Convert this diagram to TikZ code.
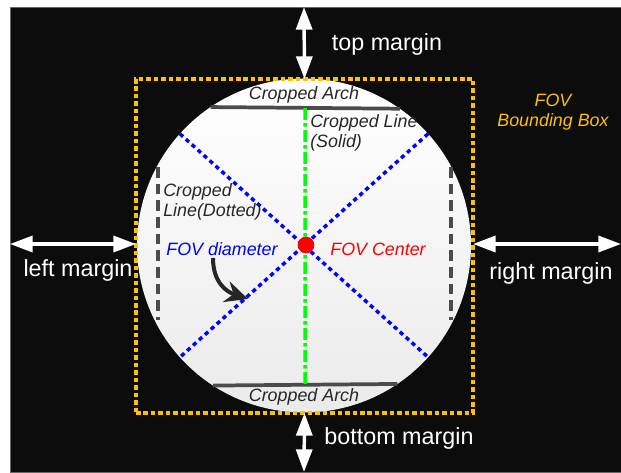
\documentclass[tikz,border=0pt]{standalone}
\usepackage{fontspec}
\setmainfont{Liberation Sans}
\usepackage{tikz}
\usetikzlibrary{calc}
\usetikzlibrary{positioning}
\usetikzlibrary{arrows.meta}
\usepackage{xcolor}
\definecolor{fovorange}{RGB}{255,192,0}
\definecolor{bgblack}{RGB}{12,12,12}
\definecolor{cropgray}{RGB}{75,75,75}
\definecolor{labelgray}{RGB}{38,38,38}

\begin{document}
\begin{tikzpicture}[
	x=0.75pt, y=-0.75pt,
	>={Triangle[width=12pt, length=17pt]},
	fovcircle/.style = {circle, minimum size=250.5pt, inner sep=0pt, outer sep=0pt, top color=white, bottom color=black!8},
	fovbox/.style = {rectangle, draw=fovorange, line width=2.6pt, dash pattern=on 3.4pt off 2.2pt, minimum width=252.75pt, minimum height=250.5pt, inner sep=0pt, outer sep=0pt},
	dot/.style = {circle, fill=red, minimum size=12.5pt, inner sep=0pt},
	diam/.style = {blue, line width=2.6pt, dash pattern=on 3.2pt off 2.8pt},
	solidline/.style = {green, line width=2.6pt, dash pattern=on 9pt off 2.5pt on 2.5pt off 2.5pt},
	dottedline/.style = {cropgray, line width=2.6pt, dash pattern=on 8pt off 4.5pt},
	arch/.style = {cropgray, line width=2.8pt},
	margin/.style = {<->, white, line width=2.6pt},
	pointer/.style = {-{Stealth[length=17pt, width=16pt]}, labelgray, line width=3pt},
	mlabel/.style = {white, font=\fontsize{17.5}{20}\selectfont},
	clabel/.style = {labelgray, font=\fontsize{13.4}{15.5}\selectfont\itshape, inner sep=0pt}
	]
	
	\useasboundingbox (0,0) rectangle (621,472);
	\fill[white] (0,0) rectangle (621,472);
	\filldraw[fill=bgblack, draw=black!60, line width=0.5pt] (10,7) rectangle (621,472);
	
	
	% === === Nodes === ===
	\node[fovcircle]	(fov)	at	(304, 245.5)	{};
	\node[fovbox]		(box)	at	(304.5, 246)	{};
	
	\coordinate	(topend)	at	(304, 7);
	\coordinate	(bottomend)	at	(304, 472);
	\coordinate	(leftend)	at	(10, 244);
	\coordinate	(rightend)	at	(621, 244);
	
	\coordinate	(dotTa)	at	(158, 167);
	\coordinate	(dotTb)	at	(158, 320);
	\coordinate	(dotUa)	at	(451, 167);
	\coordinate	(dotUb)	at	(451, 320);
	
	\coordinate	(diamstart)	at	(213, 258);
	\coordinate	(diamend)	at	(248, 299);
	
	
	% === === Lines === ===
	\draw[arch]			(fov.124.6)	--	(fov.55.4);
	\draw[arch]			(fov.-123.7)	--	(fov.-56.3);
	\draw[solidline]	($(fov.124.6)!0.5!(fov.55.4)$)	--	($(fov.-123.7)!0.5!(fov.-56.3)$);
	\draw[dottedline]	(dotTa)	--	(dotTb);
	\draw[dottedline]	(dotUa)	--	(dotUb);
	\draw[diam]			(fov.138)	--	(fov.-42);
	\draw[diam]			(fov.42)	--	(fov.222);
	
	\node[dot]	(center)	at	(306, 245)	{};
	
	\draw[margin]	(topend)	--	(box.north);
	\draw[margin]	(box.south)	--	(bottomend);
	\draw[margin]	(leftend)	--	(leftend -| box.west);
	\draw[margin]	(rightend -| box.east)	--	(rightend);
	
	\draw[pointer]	(diamstart)	..	controls (213, 283) and (227, 292)	..	(diamend);
	
	
	% === === Labels === ===
	\node[mlabel]	(toplbl)	at	(387, 44)	{top margin};
	\node[mlabel]	(botlbl)	at	(399, 438)	{bottom margin};
	\node[mlabel]	(leftlbl)	at	(78, 270)	{left margin};
	\node[mlabel]	(rightlbl)	at	(551, 273)	{right margin};
	
	\node[clabel]	(archtop)	at	(304, 95)	{Cropped Arch};
	\node[clabel]	(archbot)	at	(304, 397)	{Cropped Arch};
	\node[clabel, anchor=west, align=left]	(solidlbl)	at	(310, 133)	{Cropped Line\\(Solid)};
	\node[clabel, anchor=west, align=left]	(dottedlbl)	at	(163, 202)	{Cropped\\Line(Dotted)};
	\node[clabel, blue]	(diamlbl)	at	(222, 249)	{FOV diameter};
	\node[clabel, red]	(centerlbl)	at	(378, 249)	{FOV Center};
	\node[clabel, fovorange, align=center]	(boxlbl)	at	(553, 112)	{FOV\\Bounding Box};
	
	
\end{tikzpicture}
\end{document}
